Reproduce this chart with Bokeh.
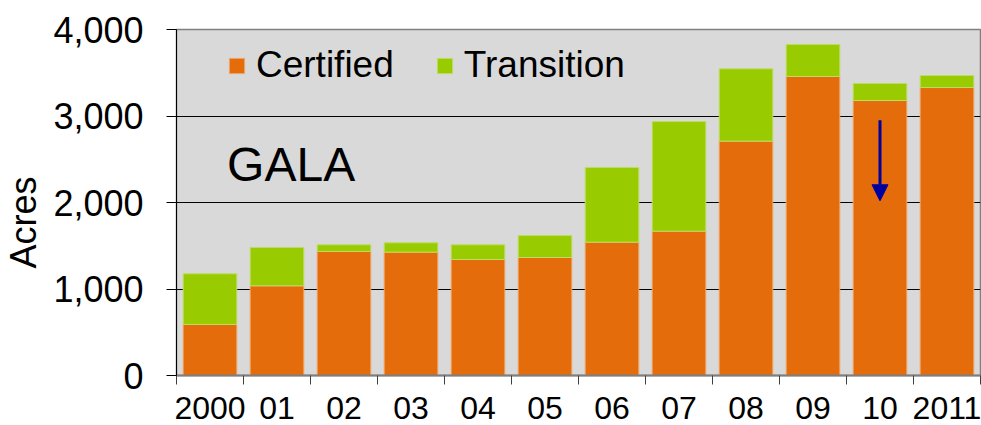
from bokeh.plotting import figure
from bokeh.models import (Range1d, FixedTicker, NumeralTickFormatter, Label,
                          Arrow, NormalHead, ColumnDataSource)
from bokeh.embed import file_html
from bokeh.resources import INLINE

# ---- data ----
years = ["2000", "01", "02", "03", "04", "05", "06", "07", "08", "09", "10", "2011"]
certified = [590, 1037, 1434, 1426, 1341, 1364, 1541, 1668, 2709, 3457, 3179, 3329]
transition = [586, 443, 77, 108, 170, 254, 864, 1268, 836, 370, 197, 139]
series = ["Certified", "Transition"]
y_ticks = [0, 1000, 2000, 3000, 4000]
title_text = "GALA"
y_label = "Acres"
arrow_year = "10"
arrow_start = 2950
arrow_end = 2020

# ---- styles ----
FONT = "Liberation Sans"
ORANGE = "#E46C0A"
GREEN = "#99CC00"
BG = "#D9D9D9"
BLUE = "#0000A0"

n = len(years)
centers = [i + 0.5 for i in range(n)]
src = ColumnDataSource(dict(x=centers, Certified=certified, Transition=transition))

p = figure(width=981, height=425, output_backend="svg", toolbar_location=None,
           x_range=Range1d(0, n), y_range=Range1d(0, 4000),
           min_border_left=172, min_border_right=1,
           min_border_top=29, min_border_bottom=50)
p.background_fill_color = BG
p.border_fill_color = "white"
p.outline_line_color = "#808080"
p.outline_line_width = 1.5

p.vbar_stack(series, x="x", width=0.8, source=src,
             fill_color=[ORANGE, GREEN], line_color=["#EFA468", "#BEDC66"],
             line_width=1, legend_label=series)

# grid
p.xgrid.grid_line_color = None
p.ygrid.grid_line_color = "black"
p.ygrid.grid_line_width = 1
p.ygrid.ticker = FixedTicker(ticks=y_ticks)

# y axis
p.yaxis.ticker = FixedTicker(ticks=y_ticks)
p.yaxis.formatter = NumeralTickFormatter(format="0,0")
p.yaxis.major_label_text_font = FONT
p.yaxis.major_label_text_font_size = "36px"
p.yaxis.major_label_text_color = "black"
p.yaxis.major_tick_out = 10
p.yaxis.major_tick_in = 0
p.yaxis.minor_tick_out = 0
p.yaxis.minor_tick_in = 0
p.yaxis.major_tick_line_color = "black"
p.yaxis.axis_line_color = "black"
p.yaxis.major_label_standoff = 23
# trailing no-break spaces shift the rotated title down to match the reference
p.yaxis.axis_label = y_label + "\u00a0" * 4
p.yaxis.axis_label_text_font = FONT
p.yaxis.axis_label_text_font_size = "36px"
p.yaxis.axis_label_text_font_style = "normal"
p.yaxis.axis_label_text_color = "black"
p.yaxis.axis_label_standoff = 6

# x axis: labels at centers, ticks at boundaries
p.xaxis.ticker = FixedTicker(ticks=centers, minor_ticks=list(range(n + 1)))
p.xaxis.major_label_overrides = {c: y for c, y in zip(centers, years)}
p.xaxis.major_label_text_font = FONT
p.xaxis.major_label_text_font_size = "32px"
p.xaxis.major_label_text_color = "black"
p.xaxis.major_tick_out = 0
p.xaxis.major_tick_in = 0
p.xaxis.minor_tick_out = 9
p.xaxis.minor_tick_in = 0
p.xaxis.minor_tick_line_color = "#404040"
p.xaxis.minor_tick_line_width = 1
p.xaxis.axis_line_color = "#7f7f7f"
p.xaxis.axis_line_width = 2
p.xaxis.major_label_standoff = 12

# legend
lg = p.legend[0]
lg.orientation = "horizontal"
lg.location = (51, 289)
lg.background_fill_alpha = 0
lg.border_line_alpha = 0
lg.glyph_width = 19
lg.glyph_height = 19
lg.label_text_font = FONT
lg.label_text_font_size = "37px"
lg.label_text_color = "black"
lg.label_standoff = 10
lg.spacing = 41
lg.padding = 0
lg.margin = 0

# GALA label
p.add_layout(Label(x=0.755, y=2435, text=title_text, text_font=FONT,
                   text_font_size="48px", text_color="black",
                   text_baseline="alphabetic"))

# arrow
ax = centers[years.index(arrow_year)]
p.add_layout(Arrow(end=NormalHead(size=16, fill_color=BLUE, line_color=BLUE),
                   x_start=ax, y_start=arrow_start, x_end=ax, y_end=arrow_end,
                   line_color=BLUE, line_width=3))

open("out.html", "w").write(file_html(p, INLINE))
